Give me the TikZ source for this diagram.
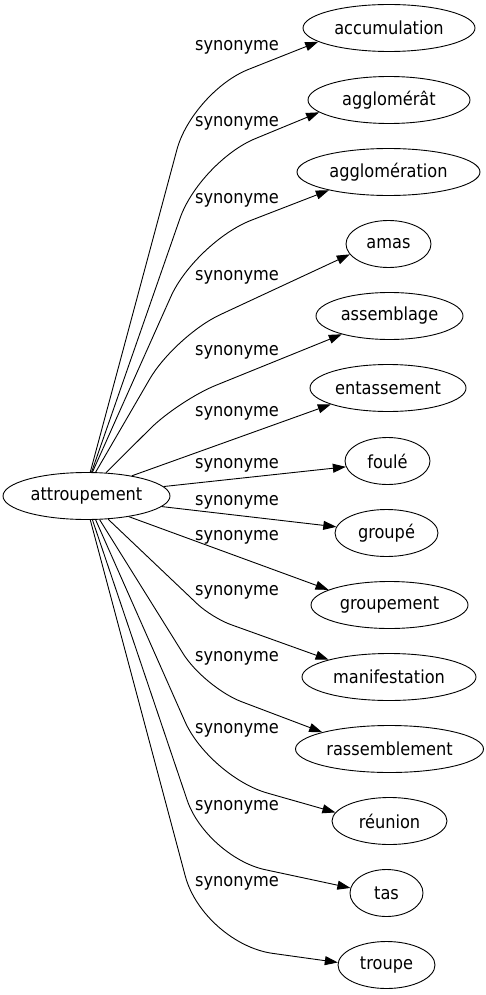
\documentclass[tikz,border=0pt]{standalone}
\usepackage{fontspec}
\setmainfont{DejaVu Sans Condensed}
\usetikzlibrary{arrows.meta,shapes.geometric}

\begin{document}
\begin{tikzpicture}[x=1pt, y=-1pt,
    word/.style={draw, ellipse, inner sep=0pt, minimum height=47pt, line width=0.9pt, font=\fontsize{18}{20}\selectfont},
    lbl/.style={inner sep=0pt, font=\fontsize{18}{20}\selectfont},
    rel/.style={-{Triangle[length=13pt,width=9pt]}, line width=0.9pt, rounded corners=#1},
    rel/.default=0pt]
  \useasboundingbox (0,0) rectangle (485,995);

  % head word
  \node[word, minimum width=167pt] (attroupement) at (86.5,496) {attroupement};

  % synonyms
  \node[word, minimum width=172pt] (accumulation) at (389,28) {accumulation};
  \node[word, minimum width=162pt] (agglomerat) at (389,100) {agglomérât};
  \node[word, minimum width=183pt] (agglomeration) at (388.5,172) {agglomération};
  \node[word, minimum width=85pt] (amas) at (388.5,244) {amas};
  \node[word, minimum width=147pt] (assemblage) at (389.5,316) {assemblage};
  \node[word, minimum width=156pt] (entassement) at (388,388) {entassement};
  \node[word, minimum width=85pt] (foule) at (387.5,461) {foulé};
  \node[word, minimum width=103pt] (groupe) at (386.5,533) {groupé};
  \node[word, minimum width=157pt] (groupement) at (389.5,605) {groupement};
  \node[word, minimum width=174pt] (manifestation) at (389,677) {manifestation};
  \node[word, minimum width=188pt] (rassemblement) at (389.5,749) {rassemblement};
  \node[word, minimum width=115pt] (reunion) at (389.5,821) {réunion};
  \node[word, minimum width=73pt] (tas) at (386.5,893) {tas};
  \node[word, minimum width=97pt] (troupe) at (386.5,965) {troupe};

  % edge labels
  \node[lbl] (s1) at (237,47) {synonyme};
  \node[lbl] (s2) at (237,123) {synonyme};
  \node[lbl] (s3) at (237,200) {synonyme};
  \node[lbl] (s4) at (237,277) {synonyme};
  \node[lbl] (s5) at (237,352) {synonyme};
  \node[lbl] (s6) at (237,413) {synonyme};
  \node[lbl] (s7) at (237,465) {synonyme};
  \node[lbl] (s8) at (237,502) {synonyme};
  \node[lbl] (s9) at (237,537) {synonyme};
  \node[lbl] (s10) at (237,592) {synonyme};
  \node[lbl] (s11) at (237,658) {synonyme};
  \node[lbl] (s12) at (237,730) {synonyme};
  \node[lbl] (s13) at (237,807) {synonyme};
  \node[lbl] (s14) at (237,883) {synonyme};

  % edges
  \draw[rel=60] (attroupement.81) -- (192.5,91.6) -- (accumulation.191);
  \draw[rel=60] (attroupement.78) -- (199.8,161.5) -- (agglomerat.190);
  \draw[rel=60] (attroupement.76) -- (195.3,241.9) -- (agglomeration.197);
  \draw[rel=50] (attroupement.69) -- (174.8,335.8) -- (amas.195);
  \draw[rel=40] (attroupement.50) -- (178.6,400.4) -- (assemblage.201);
  \draw[rel] (attroupement.24) -- (entassement.196);
  \draw[rel] (attroupement.7) -- (foule.188);
  \draw[rel] (attroupement.-8) -- (groupe.173);
  \draw[rel] (attroupement.-26) -- (groupement.166);
  \draw[rel=20] (attroupement.-47) -- (211.9,617.8) -- (manifestation.164);
  \draw[rel=40] (attroupement.-61) -- (204.3,687.6) -- (rassemblement.166);
  \draw[rel=60] (attroupement.-69) -- (209.3,776.5) -- (reunion.171);
  \draw[rel=60] (attroupement.-76) -- (206.4,857.1) -- (tas.172);
  \draw[rel=70] (attroupement.-81) -- (203.3,943.7) -- (troupe.177);
\end{tikzpicture}
\end{document}
